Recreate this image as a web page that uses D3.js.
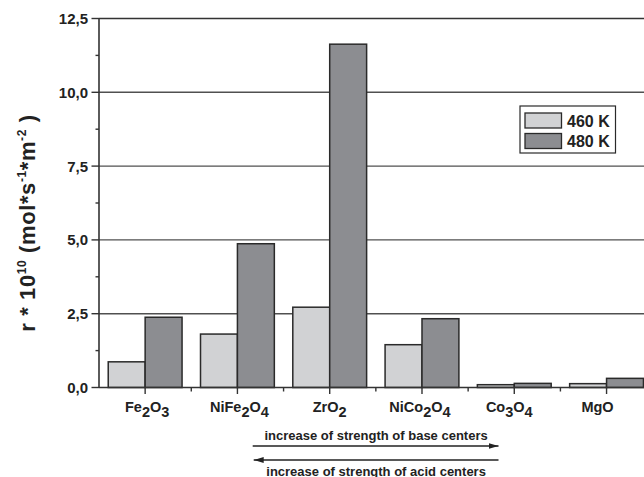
<!DOCTYPE html>
<html>
<head>
<meta charset="utf-8">
<script src="https://cdn.jsdelivr.net/npm/d3@7/dist/d3.min.js"></script>
<style>
  html, body { margin: 0; padding: 0; background: #fff; }
  svg { display: block; font-family: "Liberation Sans", Arial, sans-serif; font-weight: bold; }
</style>
</head>
<body>
<svg id="chart" width="644" height="477"></svg>
<script>
// ---- data ----
const categories = ["Fe2O3", "NiFe2O4", "ZrO2", "NiCo2O4", "Co3O4", "MgO"];
const seriesNames = ["460 K", "480 K"];
const values460 = [0.87, 1.81, 2.72, 1.45, 0.095, 0.13];
const values480 = [2.38, 4.87, 11.63, 2.33, 0.14, 0.31];
const yTickValues = [0, 2.5, 5, 7.5, 10, 12.5];
const yMinorTickValues = [1.25, 3.75, 6.25, 8.75, 11.25];
const annotationTexts = ["increase of strength of base centers", "increase of strength of acid centers"];

// ---- layout ----
const svg = d3.select("#chart");
const plotLeft = 99, plotRight = 652.7, plotTop = 18.5, plotBottom = 387.5;
const colors = ["#d1d2d4", "#8c8d91"];
const series = [values460, values480];

const x0 = d3.scaleBand().domain(categories).range([plotLeft, plotRight]).paddingInner(0.2).paddingOuter(0.1);
const x1 = d3.scaleBand().domain(seriesNames).range([0, x0.bandwidth()]).padding(0);
const y = d3.scaleLinear().domain([0, 12.5]).range([plotBottom, plotTop]);
const fmt = d3.formatLocale({decimal: ",", thousands: ".", grouping: [3], currency: ["", ""]}).format(".1f");
const center = c => x0(c) + x0.bandwidth() / 2;

// gridlines
svg.append("g").selectAll("line").data(yTickValues.filter(v => v > 0 && v < 12.5)).join("line")
  .attr("x1", plotLeft).attr("x2", plotRight)
  .attr("y1", d => y(d)).attr("y2", d => y(d))
  .attr("stroke", "#505050").attr("stroke-width", 1.4);

// top frame
svg.append("line").attr("x1", plotLeft).attr("x2", plotRight).attr("y1", y(12.5)).attr("y2", y(12.5))
  .attr("stroke", "#333").attr("stroke-width", 1.7);

// bars
const groups = svg.append("g").selectAll("g").data(categories).join("g")
  .attr("transform", c => `translate(${x0(c)},0)`);
groups.selectAll("rect").data((c, i) => seriesNames.map((s, k) => ({s, v: series[k][i], k}))).join("rect")
  .attr("x", d => x1(d.s)).attr("width", x1.bandwidth())
  .attr("y", d => y(d.v)).attr("height", d => y(0) - y(d.v))
  .attr("fill", d => colors[d.k]).attr("stroke", "#2a2a2a").attr("stroke-width", 1.5);

// y axis
const yAxis = svg.append("g");
yAxis.append("line").attr("x1", plotLeft).attr("x2", plotLeft).attr("y1", plotTop).attr("y2", plotBottom)
  .attr("stroke", "#333").attr("stroke-width", 1.6);
yAxis.selectAll("line.maj").data(yTickValues).join("line").attr("class", "maj")
  .attr("x1", plotLeft - 7.5).attr("x2", plotLeft).attr("y1", d => y(d)).attr("y2", d => y(d))
  .attr("stroke", "#333").attr("stroke-width", 1.4);
yAxis.selectAll("line.min").data(yMinorTickValues).join("line").attr("class", "min")
  .attr("x1", plotLeft - 3.5).attr("x2", plotLeft).attr("y1", d => y(d)).attr("y2", d => y(d))
  .attr("stroke", "#333").attr("stroke-width", 1.4);
yAxis.selectAll("text").data(yTickValues).join("text")
  .attr("x", 88).attr("y", d => y(d)).attr("dy", "0.36em")
  .attr("text-anchor", "end").attr("font-size", 15).attr("fill", "#222")
  .text(d => fmt(d));

// x axis
const xAxis = svg.append("g");
xAxis.append("line").attr("x1", plotLeft).attr("x2", plotRight).attr("y1", plotBottom).attr("y2", plotBottom)
  .attr("stroke", "#333").attr("stroke-width", 1.6);
xAxis.selectAll("line.maj").data(categories).join("line").attr("class", "maj")
  .attr("x1", center).attr("x2", center).attr("y1", plotBottom).attr("y2", plotBottom + 6.5)
  .attr("stroke", "#333").attr("stroke-width", 1.4);
const boundaries = categories.slice(1).map((c, i) => (center(categories[i]) + center(c)) / 2);
xAxis.selectAll("line.min").data(boundaries).join("line").attr("class", "min")
  .attr("x1", d => d).attr("x2", d => d).attr("y1", plotBottom).attr("y2", plotBottom + 4)
  .attr("stroke", "#333").attr("stroke-width", 1.4);

function chemLabel(sel, str, shift) {
  const parts = str.match(/[A-Za-z]+|\d+/g);
  let down = false;
  parts.forEach(p => {
    const isNum = /^\d+$/.test(p);
    let dy = 0;
    if (isNum && !down) { dy = shift; down = true; }
    else if (!isNum && down) { dy = -shift; down = false; }
    sel.append("tspan").attr("dy", dy).text(p);
  });
}
const labelShift = [2, 2, 0, -2, -5, -9];
xAxis.selectAll("text").data(categories).join("text")
  .attr("x", (c, i) => center(c) + labelShift[i]).attr("y", 412).attr("text-anchor", "middle")
  .attr("font-size", 14.5).attr("fill", "#222")
  .each(function(c) { chemLabel(d3.select(this), c, 5); });

// y title
const yt = svg.append("text").attr("transform", "translate(35,223) rotate(-90)")
  .attr("text-anchor", "middle").attr("font-size", 22).attr("letter-spacing", 0.6).attr("fill", "#222");
yt.append("tspan").text("r * 10");
yt.append("tspan").attr("dy", -9).attr("font-size", 12).text("10");
yt.append("tspan").attr("dy", 9).text(" (mol*s");
yt.append("tspan").attr("dy", -9).attr("font-size", 12).text("-1");
yt.append("tspan").attr("dy", 9).text("*m");
yt.append("tspan").attr("dy", -9).attr("font-size", 12).text("-2");
yt.append("tspan").attr("dy", 9).text(" )");

// legend
const lg = svg.append("g");
lg.append("rect").attr("x", 520).attr("y", 106).attr("width", 95.5).attr("height", 47)
  .attr("fill", "#fff").attr("stroke", "#2a2a2a").attr("stroke-width", 1.2);
seriesNames.forEach((s, k) => {
  lg.append("rect").attr("x", 525).attr("y", 113 + k * 20.5).attr("width", 36.5).attr("height", 15)
    .attr("fill", colors[k]).attr("stroke", "#2a2a2a").attr("stroke-width", 1.3);
  lg.append("text").attr("x", 567).attr("y", 126.5 + k * 20.5)
    .attr("font-size", 16).attr("fill", "#222").text(s);
});

// annotations (arrows)
svg.append("defs").append("marker").attr("id", "ah").attr("viewBox", "0 0 10 6")
  .attr("refX", 10).attr("refY", 3).attr("markerWidth", 10).attr("markerHeight", 6)
  .attr("markerUnits", "userSpaceOnUse").attr("orient", "auto-start-reverse")
  .append("path").attr("d", "M0,0 L10,3 L0,6 Z").attr("fill", "#222");
const aStart = 252.7, aEnd = 498.5, aMid = (aStart + aEnd) / 2 + 0.5;
svg.append("text").attr("x", aMid).attr("y", 440).attr("text-anchor", "middle")
  .attr("font-size", 13).attr("fill", "#222").text(annotationTexts[0]);
svg.append("line").attr("x1", aStart).attr("x2", aEnd).attr("y1", 446).attr("y2", 446)
  .attr("stroke", "#222").attr("stroke-width", 1.3).attr("marker-end", "url(#ah)");
svg.append("line").attr("x1", aStart + 1).attr("x2", aEnd).attr("y1", 460).attr("y2", 460)
  .attr("stroke", "#222").attr("stroke-width", 1.3).attr("marker-start", "url(#ah)");
svg.append("text").attr("x", aMid).attr("y", 475.5).attr("text-anchor", "middle")
  .attr("font-size", 13).attr("fill", "#222").text(annotationTexts[1]);
</script>
</body>
</html>
